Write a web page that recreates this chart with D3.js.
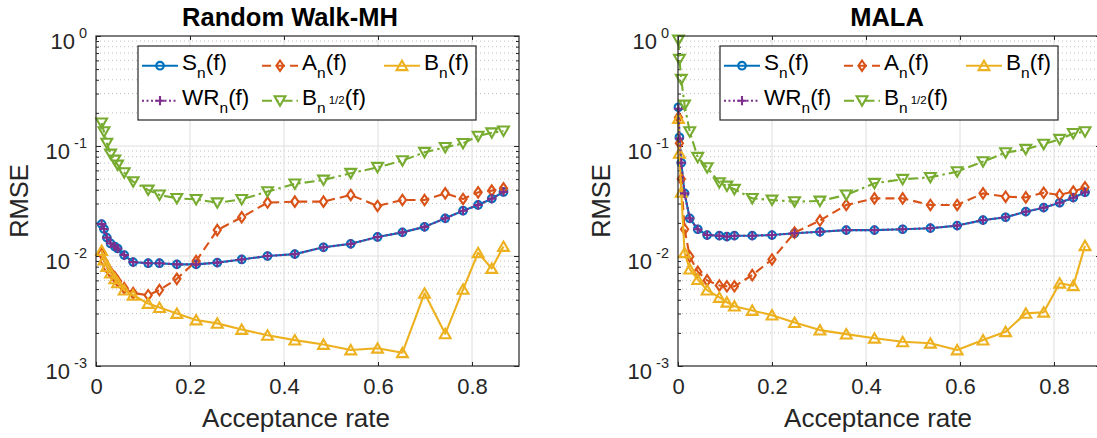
<!DOCTYPE html>
<html>
<head>
<meta charset="utf-8">
<script src="https://cdn.jsdelivr.net/npm/d3@7"></script>
<style>
  html, body { margin: 0; padding: 0; background: #fff; }
  svg { display: block; }
</style>
</head>
<body>
<svg id="chart" width="1097" height="438"></svg>
<script>
// ---------------- data ----------------
const titles = ["Random Walk-MH", "MALA"];
const xTicks = [0, 0.2, 0.4, 0.6, 0.8];
const xTickLabels = ["0", "0.2", "0.4", "0.6", "0.8"];
const yTicks = [1e-3, 1e-2, 1e-1, 1];
const yTickExponents = ["-3", "-2", "-1", "0"];
const seriesNames = ["S", "A", "B", "WR", "B12"];

// Random Walk-MH
const rwX   = [0.012,0.017,0.023,0.031,0.040,0.046,0.060,0.079,0.111,0.135,0.172,0.213,0.258,0.310,0.365,0.423,0.484,0.542,0.599,0.652,0.699,0.743,0.781,0.813,0.842,0.867];
const rwS   = [0.0195,0.0176,0.0147,0.0130,0.0122,0.0117,0.0102,0.0088,0.0086,0.0086,0.0084,0.0084,0.0087,0.0093,0.0100,0.0104,0.0120,0.0129,0.0149,0.0164,0.0184,0.0220,0.0258,0.0291,0.0332,0.0382];
const rwA   = [0.0105,0.0090,0.0079,0.0071,0.0064,0.0059,0.0051,0.0046,0.0044,0.0049,0.0062,0.0090,0.0172,0.0225,0.0306,0.0312,0.0312,0.0359,0.0285,0.0323,0.0323,0.0371,0.0330,0.0379,0.0393,0.0412];
const rwB   = [0.0112,0.0092,0.0080,0.0070,0.0062,0.0057,0.0049,0.0044,0.0037,0.0034,0.0030,0.00262,0.00244,0.00215,0.0019,0.00172,0.00157,0.0014,0.00145,0.00132,0.00458,0.00196,0.00498,0.0107,0.0077,0.0122];
const rwWR  = [0.0195,0.0176,0.0147,0.0130,0.0122,0.0117,0.0102,0.0088,0.0086,0.0086,0.0084,0.0084,0.0087,0.0093,0.0100,0.0104,0.0120,0.0129,0.0149,0.0164,0.0184,0.0220,0.0258,0.0291,0.0332,0.0382];
const rwB12 = [0.162,0.135,0.106,0.0846,0.0746,0.0672,0.0573,0.0474,0.0398,0.0359,0.0334,0.0327,0.0305,0.0327,0.0385,0.0452,0.0491,0.0565,0.064,0.0736,0.0876,0.0972,0.1057,0.123,0.132,0.137];

// MALA
const malaX   = [0.001,0.003,0.007,0.014,0.025,0.042,0.062,0.088,0.104,0.120,0.158,0.200,0.248,0.302,0.358,0.418,0.478,0.537,0.594,0.649,0.697,0.740,0.778,0.812,0.841,0.866];
const malaS   = [0.225,0.120,0.0705,0.0371,0.0220,0.0175,0.0155,0.0153,0.0150,0.0153,0.0153,0.0155,0.0161,0.0166,0.0172,0.0172,0.0175,0.0179,0.0189,0.0212,0.0225,0.0253,0.0275,0.0305,0.0339,0.0379];
const malaA   = [0.182,0.106,0.050,0.0175,0.0099,0.0072,0.0060,0.0054,0.0053,0.0053,0.0067,0.0093,0.0163,0.0210,0.0291,0.0334,0.0334,0.0291,0.0291,0.0371,0.0346,0.0341,0.0376,0.0359,0.0385,0.0421];
const malaB   = [0.178,0.0858,0.038,0.0107,0.0076,0.0061,0.0049,0.0042,0.0038,0.0035,0.0032,0.0029,0.00248,0.00212,0.00195,0.00179,0.00166,0.00161,0.0014,0.00172,0.00205,0.00301,0.00308,0.00565,0.00537,0.0124];
const malaWR  = [0.218,0.117,0.0705,0.0371,0.0220,0.0175,0.0155,0.0153,0.0150,0.0153,0.0153,0.0155,0.0161,0.0166,0.0172,0.0172,0.0175,0.0179,0.0189,0.0212,0.0225,0.0253,0.0275,0.0305,0.0339,0.0379];
const malaB12 = [0.92,0.614,0.404,0.236,0.135,0.0789,0.0636,0.0465,0.0433,0.0404,0.0334,0.0323,0.0312,0.0316,0.0359,0.0458,0.0498,0.0519,0.0585,0.0721,0.087,0.0933,0.104,0.115,0.130,0.135];

// ---------------- styling ----------------
const FONT = '"Liberation Sans", Arial, Helvetica, sans-serif';
const TXT = "#262626";
const style = {
  S:   {color: "#0072BD", dash: null,         marker: "circle"},
  A:   {color: "#D95319", dash: "9,5",        marker: "diamond"},
  B:   {color: "#EDB120", dash: null,         marker: "tri"},
  WR:  {color: "#7E2F8E", dash: "2,2.5",      marker: "plus"},
  B12: {color: "#77AC30", dash: "10,4,2.5,4", marker: "vtri"}
};
const LW = 2.1;

function markerPath(type) {
  switch (type) {
    case "circle": return "M3.8,0A3.8,3.8 0 1,1 -3.8,0A3.8,3.8 0 1,1 3.8,0Z";
    case "diamond": return "M0,-5.2L3.6,0L0,5.2L-3.6,0Z";
    case "tri": return "M0,-5L5.4,4.4L-5.4,4.4Z";
    case "vtri": return "M0,5L5.4,-4.4L-5.4,-4.4Z";
    case "plus": return "M-4.6,0H4.6M0,-4.6V4.6";
  }
}

const panels = [
  {title: titles[0], x0: 96,  titleX: 290, labelX: 296, xs: rwX,   data: {S: rwS, A: rwA, B: rwB, WR: rwWR, B12: rwB12}},
  {title: titles[1], x0: 678, titleX: 887, labelX: 878, xs: malaX, data: {S: malaS, A: malaA, B: malaB, WR: malaWR, B12: malaB12}}
];

const svg = d3.select("#chart");
const Y0 = 36, Y1 = 366, W = 423;

panels.forEach((p, pi) => {
  const g = svg.append("g");
  const x = d3.scaleLinear().domain([0, 0.9]).range([p.x0, p.x0 + W]);
  const y = d3.scaleLog().domain([1e-3, 1]).range([Y1, Y0]);

  g.append("rect").attr("x", p.x0).attr("y", Y0).attr("width", W).attr("height", Y1 - Y0).attr("fill", "#fff");

  // minor grid (y)
  const minors = [];
  [-3, -2, -1].forEach(e => { for (let k = 2; k <= 9; k++) minors.push(k * Math.pow(10, e)); });
  g.selectAll(".mg").data(minors).enter().append("line")
    .attr("x1", p.x0).attr("x2", p.x0 + W)
    .attr("y1", d => y(d)).attr("y2", d => y(d))
    .attr("stroke", "#c2c2c2").attr("stroke-width", 1).attr("stroke-dasharray", "1,3");
  // major grid
  g.selectAll(".gx").data(xTicks.filter(d => d > 0)).enter().append("line")
    .attr("x1", d => x(d)).attr("x2", d => x(d)).attr("y1", Y0).attr("y2", Y1)
    .attr("stroke", "#dedede").attr("stroke-width", 1);
  g.selectAll(".gy").data([1e-2, 1e-1]).enter().append("line")
    .attr("x1", p.x0).attr("x2", p.x0 + W).attr("y1", d => y(d)).attr("y2", d => y(d))
    .attr("stroke", "#dedede").attr("stroke-width", 1);

  // axes via d3 axis (ticks inside)
  const xAxis = d3.axisBottom(x).tickValues(xTicks).tickFormat((d, i) => xTickLabels[i]).tickSizeInner(-4).tickSizeOuter(0).tickPadding(12);
  const gx = g.append("g").attr("transform", `translate(0,${Y1})`).call(xAxis);
  gx.select(".domain").remove();
  gx.selectAll("line").attr("stroke", TXT);
  gx.selectAll("text").attr("font-family", FONT).attr("font-size", 22).attr("fill", TXT);

  const addTicks = (axisFn, vals, size, tx, ty) => {
    const a = axisFn(vals === "x" ? x : y).tickValues(vals === "x" ? xTicks : vals).tickFormat(() => "").tickSizeInner(-size).tickSizeOuter(0);
    const gg = g.append("g").attr("transform", `translate(${tx},${ty})`).call(a);
    gg.select(".domain").remove(); gg.selectAll("line").attr("stroke", TXT);
  };
  addTicks(d3.axisLeft, yTicks, 5, p.x0, 0);
  addTicks(d3.axisLeft, minors, 3, p.x0, 0);
  addTicks(d3.axisRight, yTicks, 5, p.x0 + W, 0);
  addTicks(d3.axisRight, minors, 3, p.x0 + W, 0);
  addTicks(d3.axisTop, "x", 4, 0, Y0);

  // y tick labels 10^e
  yTicks.forEach((t, i) => {
    const tx = g.append("text").attr("x", p.x0 - 9).attr("y", y(t) + 13)
      .attr("text-anchor", "end").attr("font-family", FONT).attr("fill", TXT);
    tx.append("tspan").attr("font-size", 22).text("10");
    tx.append("tspan").attr("font-size", 14.5).attr("dx", 4).attr("dy", -11).text(yTickExponents[i]);
  });

  // series
  const clipId = "clip" + pi;
  g.append("clipPath").attr("id", clipId).append("rect")
    .attr("x", p.x0 - 8).attr("y", Y0 - 8).attr("width", W + 16).attr("height", Y1 - Y0 + 16);
  const dg = g.append("g").attr("clip-path", `url(#${clipId})`);
  seriesNames.forEach(name => {
    const st = style[name];
    const vals = p.data[name];
    const pts = p.xs.map((xv, i) => [xv, vals[i]]);
    const line = d3.line().x(d => x(d[0])).y(d => y(d[1]));
    dg.append("path").attr("d", line(pts)).attr("fill", "none")
      .attr("stroke", st.color).attr("stroke-width", LW)
      .attr("stroke-dasharray", st.dash).attr("stroke-linejoin", "round");
    dg.selectAll(null).data(pts).enter().append("path")
      .attr("transform", d => `translate(${x(d[0])},${y(d[1])})`)
      .attr("d", markerPath(st.marker)).attr("fill", "none")
      .attr("stroke", st.color).attr("stroke-width", LW);
  });

  // box
  g.append("rect").attr("x", p.x0).attr("y", Y0).attr("width", W).attr("height", Y1 - Y0)
    .attr("fill", "none").attr("stroke", TXT).attr("stroke-width", 1.2);

  // title
  g.append("text").attr("x", p.titleX).attr("y", 26).attr("text-anchor", "middle")
    .attr("font-family", FONT).attr("font-weight", "bold").attr("font-size", 25.5).attr("fill", "#000")
    .text(p.title);
  // x label
  g.append("text").attr("x", p.labelX).attr("y", 427).attr("text-anchor", "middle")
    .attr("font-family", FONT).attr("font-size", 26).attr("fill", TXT).text("Acceptance rate");
  // y label
  g.append("text").attr("transform", `translate(${p.x0 - 68},${(Y0 + Y1) / 2}) rotate(-90)`)
    .attr("text-anchor", "middle").attr("font-family", FONT).attr("font-size", 25.5).attr("fill", TXT).text("RMSE");

  // legend
  const lx = p.x0 + 42, ly = 46;
  const lg = g.append("g");
  lg.append("rect").attr("x", lx).attr("y", ly).attr("width", 338).attr("height", 74)
    .attr("fill", "#fff").attr("stroke", TXT).attr("stroke-width", 1.2);
  const entries = [
    {name: "S",   col: 0, row: 0, parts: [["S", 0], ["n", 1], ["(f)", 0]]},
    {name: "A",   col: 1, row: 0, parts: [["A", 0], ["n", 1], ["(f)", 0]]},
    {name: "B",   col: 2, row: 0, parts: [["B", 0], ["n", 1], ["(f)", 0]]},
    {name: "WR",  col: 0, row: 1, parts: [["WR", 0], ["n", 1], ["(f)", 0]]},
    {name: "B12", col: 1, row: 1, parts: [["B", 0], ["n", 1], ["1/2", 2], ["(f)", 0]]}
  ];
  const colOff = [4, 124, 246];
  const rowOff = [19.7, 54.7];
  entries.forEach(e => {
    const st = style[e.name];
    const cx = lx + colOff[e.col], cy = ly + rowOff[e.row];
    lg.append("line").attr("x1", cx).attr("x2", cx + 36).attr("y1", cy).attr("y2", cy)
      .attr("stroke", st.color).attr("stroke-width", LW).attr("stroke-dasharray", st.dash);
    lg.append("path").attr("transform", `translate(${cx + 18},${cy})`).attr("d", markerPath(st.marker))
      .attr("fill", "none").attr("stroke", st.color).attr("stroke-width", LW);
    const t = lg.append("text").attr("x", cx + 40).attr("y", cy + 4.5)
      .attr("font-family", FONT).attr("fill", "#000");
    let level = 0;
    const offs = [0, 8, -1];
    const sizes = [22.5, 15.5, 11.5];
    e.parts.forEach(([s, lv]) => {
      const dy = offs[lv] - offs[level];
      const ts = t.append("tspan").attr("font-size", sizes[lv]).attr("dy", dy).text(s);
      if (lv === 2) ts.attr("dx", 3);
      level = lv;
    });
  });
});
</script>
</body>
</html>
